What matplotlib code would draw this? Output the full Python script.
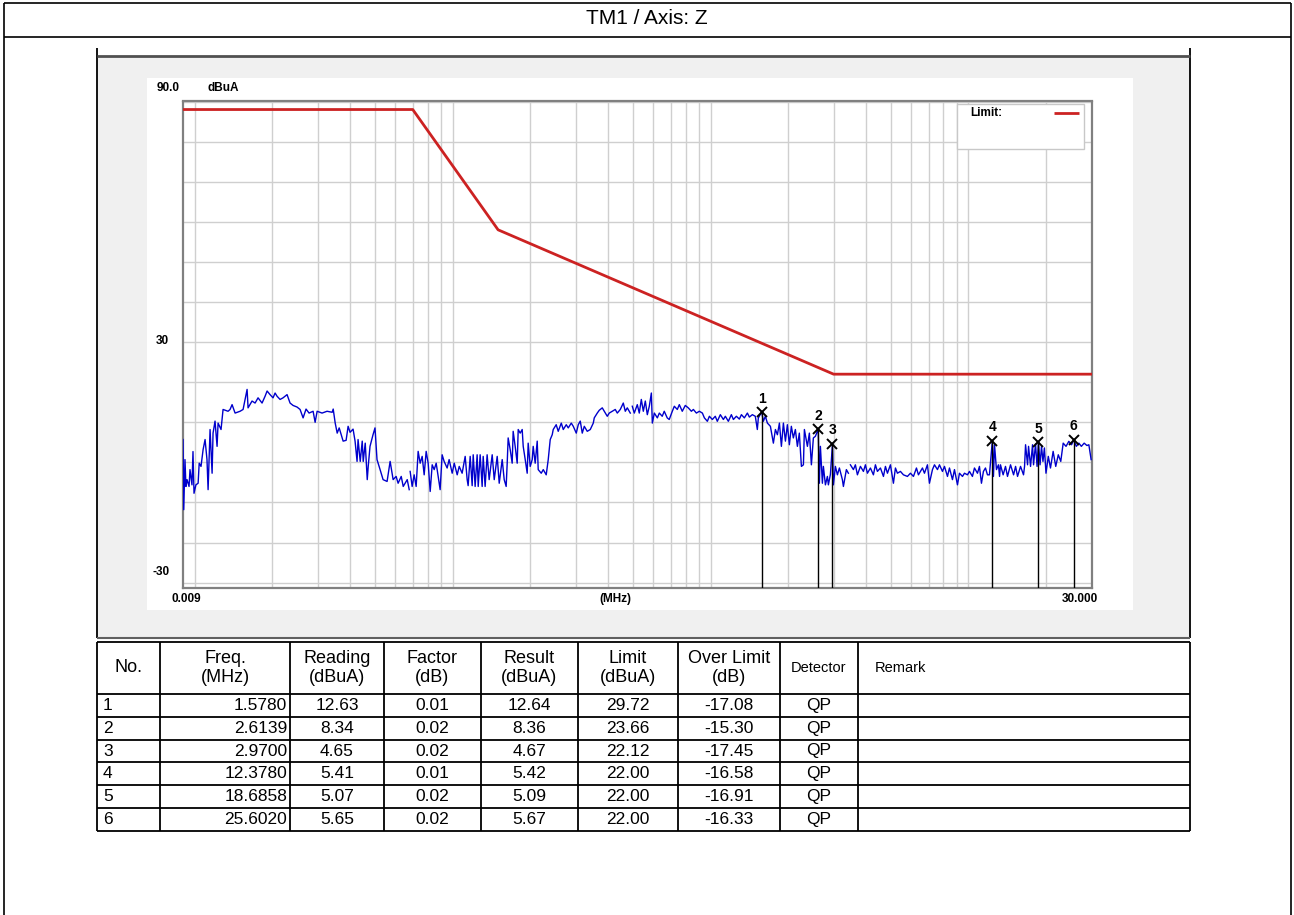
import matplotlib
matplotlib.use("Agg")
import matplotlib.pyplot as plt
from matplotlib.patches import Rectangle
from matplotlib.lines import Line2D

# ---------------- data ----------------
freq_a = [0.00900, 0.00906, 0.00916, 0.00924, 0.00933, 0.00950, 0.00958, 0.00975, 0.00984, 0.00993,
          0.0101, 0.0103, 0.0104, 0.01057, 0.01077, 0.01096, 0.01115, 0.01126, 0.01146, 0.01167,
          0.01177, 0.01198, 0.0122, 0.01231, 0.01264, 0.01287, 0.01346, 0.0137, 0.01395, 0.01433,
          0.01498, 0.01539, 0.01595, 0.01609, 0.01667, 0.01713, 0.01759, 0.01823, 0.01873, 0.01907,
          0.01958, 0.02011, 0.02048, 0.02084, 0.02141, 0.02199, 0.02279, 0.02341, 0.02405, 0.02492,
          0.0256, 0.0263, 0.0270, 0.02774, 0.02876, 0.02928, 0.02981, 0.03115, 0.03257, 0.0341,
          0.03441, 0.03503, 0.03566, 0.0363, 0.0376, 0.03861, 0.03931, 0.0400, 0.04109, 0.04183,
          0.04258, 0.04296, 0.0438, 0.04459, 0.04499, 0.0458, 0.04663, 0.04704, 0.0478, 0.0491,
          0.04998, 0.05088, 0.0523, 0.05372, 0.05567, 0.0572, 0.05876, 0.06035, 0.06143, 0.06316,
          0.0643, 0.06664, 0.06783]
level_a = [5.7, -11.8, 0.7, -6, -4.3, -6, -1.8, -5.6, 2.7, -7.7,
           -5.6, -5.2, -0.2, -1.0, 3.2, 5.7, 0.7, -6.8, 8.2, -2.7,
           7.3, 10.3, 4.0, 9.8, 8.2, 13.2, 12.75, 13.2, 14.4, 12.3,
           12.75, 13.2, 18.2, 13.6, 15.3, 14.8, 16.1, 14.8, 16.5, 17.8,
           16.9, 16.1, 17.3, 16.5, 15.7, 16.1, 16.9, 14.8, 14.2, 13.8,
           13.2, 11.1, 13.3, 12.3, 12.75, 10.0, 12.75, 12.3, 12.75, 12.5,
           13.3, 9.8, 7.3, 8.6, 5.3, 5.5, 9.0, 7.5, 8.3, 5.3,
           0.25, 5.7, 0.25, 5.3, 0.25, 4.8, -4.3, -1.0, 4.0, 6.9,
           8.6, 0.7, -1.8, -4.3, -4.75, 0.25, -4.3, -3.5, -5.2, -3.5,
           -6.0, -4.3, -6.8]

freq_b = [0.0684, 0.06963, 0.07089, 0.07216, 0.07346, 0.0748, 0.07615, 0.07752, 0.07891, 0.08034,
          0.0818, 0.08327, 0.08478, 0.0863, 0.08785, 0.0894, 0.09101, 0.09265, 0.09517, 0.09687,
          0.09956, 0.1014, 0.1041, 0.1060, 0.1088, 0.1118, 0.1138, 0.1148, 0.1169, 0.1190,
          0.1201, 0.1222, 0.1244, 0.1256, 0.1278, 0.1301, 0.1313, 0.1336, 0.1360, 0.1385,
          0.1423, 0.1449, 0.1488, 0.1515, 0.1556, 0.1584, 0.1612, 0.1627, 0.1641, 0.1671,
          0.1701, 0.1716, 0.1747, 0.1779, 0.1795, 0.1827, 0.1860, 0.1877, 0.1911, 0.1945,
          0.1962, 0.1998, 0.2034, 0.2052, 0.2089, 0.2127, 0.2146, 0.2205, 0.2245, 0.2305,
          0.2347, 0.2389, 0.2432, 0.2454, 0.2520, 0.2566, 0.2637, 0.2684, 0.2757, 0.2806,
          0.2883, 0.2935, 0.3014, 0.3069, 0.3124, 0.3180, 0.3238, 0.3325, 0.3416, 0.3509,
          0.3540, 0.3636, 0.3702, 0.3802, 0.3871, 0.3976, 0.4047, 0.4158, 0.4270, 0.4348,
          0.4466, 0.4587, 0.4670, 0.4754, 0.4883]
level_b = [-2.25, -6.0, -3.1, -6.0, 2.75, -0.2, 1.5, -3.1, 2.75, -0.2,
           -7.25, -0.6, -1.8, -0.2, -3.5, -6.8, 1.9, 0.25, -1.4, 0.7,
           -2.7, -0.2, -3.1, -1.0, -2.7, 1.5, -4.3, -5.8, 1.5, -5.8,
           1.9, -6.0, 1.9, -6.0, 1.9, -6.0, 1.5, -6.0, 1.9, -4.3,
           1.9, -4.3, 1.5, -5.2, 0.7, -4.3, -6.0, -0.2, 6.1, 3.2,
           -0.2, 7.75, 4.0, -0.2, 8.2, 7.3, 8.2, 4.0, 0.7, -2.7,
           4.8, -1.0, 0.7, 4.0, -0.2, 5.3, -1.8, -2.7, -1.8, -3.1,
           0.7, 5.7, 6.9, 8.2, 9.4, 7.75, 9.8, 8.2, 9.4, 8.6,
           9.8, 9.0, 7.3, 9.4, 10.3, 7.3, 9.0, 7.75, 8.2, 9.8,
           11.1, 12.3, 13.0, 13.6, 12.75, 11.5, 12.3, 12.75, 13.2, 12.3,
           13.2, 14.8, 12.75, 13.6, 12.3]

freq_c = [0.4971, 0.5061, 0.5198, 0.5291, 0.5388, 0.5485, 0.5584, 0.5685, 0.5787, 0.5893,
          0.5945, 0.6053, 0.6217, 0.6328, 0.6495, 0.6612, 0.6791, 0.6913, 0.7106, 0.7234,
          0.7430, 0.7564, 0.7767, 0.7979, 0.8195, 0.8425, 0.8577, 0.8810, 0.9048, 0.9294,
          0.9463, 0.9718, 0.9893, 1.016, 1.043, 1.062, 1.091, 1.121, 1.141, 1.172,
          1.204, 1.226, 1.259, 1.293, 1.317, 1.352, 1.389, 1.414, 1.452, 1.491,
          1.518, 1.532, 1.578, 1.602, 1.631, 1.661, 1.706, 1.752, 1.784, 1.816,
          1.849, 1.882, 1.916, 1.951, 1.985, 2.021, 2.057, 2.094, 2.132, 2.171,
          2.209, 2.250, 2.291, 2.311, 2.374, 2.416, 2.460, 2.504, 2.549, 2.595,
          2.6139, 2.642, 2.666, 2.714, 2.738, 2.788, 2.838, 2.863, 2.915, 2.970,
          2.994, 3.048, 3.103, 3.159, 3.244, 3.274, 3.362, 3.423]
level_c = [14.0, 12.3, 14.4, 12.3, 15.7, 12.75, 15.3, 11.9, 14.0, 17.3,
           9.8, 12.3, 11.1, 12.3, 11.5, 12.75, 11.1, 10.7, 12.75, 14.0,
           13.2, 14.4, 12.75, 14.2, 13.6, 12.75, 13.2, 12.3, 12.75, 12.3,
           11.1, 10.25, 11.5, 10.7, 11.5, 10.25, 11.9, 10.7, 11.5, 10.25,
           11.9, 10.7, 11.5, 10.8, 11.9, 11.1, 12.3, 11.3, 11.9, 11.5,
           8.2, 11.1, 12.6, 10.25, 11.5, 9.8, 9.0, 4.8, 8.2, 6.9,
           9.8, 4.0, 9.8, 5.3, 9.4, 4.4, 9.0, 6.1, 8.2, 4.0,
           7.3, -1.0, -0.6, 8.2, 4.0, 7.3, -0.6, 6.1, 6.5, 7.75,
           8.3, -5.2, 4.0, -5.2, -1.0, -5.6, -3.5, -5.6, -3.0, 4.6,
           -5.6, -1.0, -3.1, -1.4, -4.3, -6.0, -1.8, -2.7]

freq_d = [3.485, 3.580, 3.644, 3.710, 3.811, 3.915, 3.985, 4.057, 4.167, 4.280,
          4.357, 4.436, 4.557, 4.681, 4.765, 4.851, 4.982, 5.117, 5.210, 5.303,
          5.448, 5.596, 5.799, 5.957, 6.119, 6.285, 6.398, 6.631, 6.751, 6.934,
          7.058, 7.251, 7.382, 7.582, 7.718, 7.929, 8.073, 8.291, 8.440, 8.669,
          8.826, 9.065, 9.228, 9.479, 9.651, 9.913, 10.09, 10.36, 10.55, 10.84,
          11.03, 11.23, 11.43, 11.64, 11.85, 12.06, 12.378, 12.50, 12.62, 12.84,
          13.07, 13.20, 13.31, 13.63, 13.92, 14.17, 14.56, 14.96, 15.23, 15.50,
          15.92, 16.35, 16.50, 16.65, 16.95, 17.10, 17.41, 17.72, 17.88, 18.20,
          18.45, 18.6858, 18.95, 19.20, 19.45, 19.70, 19.98, 20.40, 20.80, 21.30,
          21.80, 22.30, 22.80, 23.30, 23.90, 24.50, 25.10, 25.602, 26.20, 26.80,
          27.40, 28.10, 28.80, 29.30, 29.90]
level_d = [-0.6, -1.8, -0.6, -3.1, -1.0, -2.25, -0.6, -2.7, -1.4, -3.1,
           -0.6, -2.25, -1.4, -3.5, -1.0, -2.7, -0.6, -5.2, -1.4, -2.7,
           -2.25, -3.1, -3.5, -2.7, -3.5, -1.4, -3.1, -1.4, -2.7, -0.6,
           -5.2, -1.8, -0.6, -1.8, -0.6, -2.25, -1.0, -3.5, -1.4, -4.3,
           -1.8, -5.6, -2.7, -3.5, -2.7, -3.1, -2.25, -3.5, -1.4, -2.7,
           -1.0, -5.2, -2.25, -1.4, -3.1, -3.1, 5.4, -3.5, 4.4, -1.8,
           -0.6, -3.5, -0.6, -3.1, -1.0, -3.5, -0.6, -3.1, -1.0, -3.5,
           -1.0, -3.1, -1.0, 4.4, -0.6, 4.0, -1.0, 4.4, -0.6, 4.6,
           -1.0, 5.1, -0.6, 4.0, 0.25, 3.6, -2.7, 1.5, -1.4, 2.75,
           -1.0, 1.9, 0.25, 4.8, 4.0, 5.25, 4.4, 5.6, 4.0, 4.8,
           4.0, 4.8, 4.2, 4.4, 0.7]

limit_freq = [0.009, 0.07, 0.15, 3.0, 30.0]
limit_level = [88, 88, 58, 22, 22]

marker_no = ["1", "2", "3", "4", "5", "6"]
marker_freq = [1.5780, 2.6139, 2.9700, 12.3780, 18.6858, 25.6020]
marker_reading = [12.63, 8.34, 4.65, 5.41, 5.07, 5.65]
marker_factor = [0.01, 0.02, 0.02, 0.01, 0.02, 0.02]
marker_result = [12.64, 8.36, 4.67, 5.42, 5.09, 5.67]
marker_limit = [29.72, 23.66, 22.12, 22.00, 22.00, 22.00]
marker_over = [-17.08, -15.30, -17.45, -16.58, -16.91, -16.33]
marker_detector = ["QP", "QP", "QP", "QP", "QP", "QP"]

table_headers = ["No.", "Freq.\n(MHz)", "Reading\n(dBuA)", "Factor\n(dB)", "Result\n(dBuA)",
                 "Limit\n(dBuA)", "Over Limit\n(dB)", "Detector", "Remark"]

title_text = "TM1 / Axis: Z"

# ---------------- figure ----------------
W, H = 1294, 915
fig = plt.figure(figsize=(W / 100, H / 100), dpi=100)
fig.patch.set_facecolor("white")
SANS = ["Liberation Sans", "DejaVu Sans"]


def fx(x):
    return x / W


def fy(y):
    return 1 - y / H


def line(x0, y0, x1, y1, color="black", lw=1.0, z=3):
    fig.add_artist(Line2D([fx(x0), fx(x1)], [fy(y0), fy(y1)], color=color, lw=lw,
                          transform=fig.transFigure, zorder=z, solid_capstyle="butt"))


def rect(x0, y0, x1, y1, fc, ec="none", lw=0, z=-2):
    fig.add_artist(Rectangle((fx(x0), fy(y1)), fx(x1) - fx(x0), fy(y0) - fy(y1),
                             transform=fig.transFigure, facecolor=fc, edgecolor=ec,
                             lw=lw, zorder=z))


def text(x, y, s, size=12, ha="center", weight="normal", family=SANS, z=4, ls=1.0):
    fig.text(fx(x), fy(y), s, ha=ha, va="center", fontsize=size, fontweight=weight,
             family=family, zorder=z, linespacing=ls)


# outer frame and title
line(4, 3, 1291, 3, lw=1.2)
line(4, 3, 4, 915, lw=1.2)
line(1291, 3, 1291, 915, lw=1.2)
line(4, 37, 1291, 37, lw=1.2)
text(647, 19, title_text, size=15)

# chart panel
rect(97, 56, 1190, 638, "#f0f0f0", z=-3)
rect(147, 78, 1133, 610, "white", z=-2)
line(96.5, 48, 96.5, 638, lw=1.3)
line(1190, 48, 1190, 638, lw=1.3)
line(96.5, 56, 1190, 56, color="#505050", lw=2.0)
line(96.5, 638, 1190, 638, color="#606060", lw=1.5)

# axes
ax = fig.add_axes([fx(183), fy(587.5), fx(1091.5) - fx(183), fy(101.5) - fy(587.5)])
ax.set_facecolor("white")
ax.set_xscale("log")
ax.set_xlim(0.009, 30)
ax.set_ylim(-31.2, 90)
grid_x = [m * 10.0 ** e for e in range(-2, 2) for m in range(1, 10) if m * 10.0 ** e <= 30]
ax.set_xticks(grid_x)
ax.set_xticks([], minor=True)
ax.set_yticks(list(range(-30, 91, 10)))
ax.tick_params(which="both", length=0, labelbottom=False, labelleft=False)
ax.grid(True, which="major", color="#cfcfcf", lw=1.0)
for sp in ax.spines.values():
    sp.set_color("#808080")
    sp.set_linewidth(1.6)

ax.plot(limit_freq, limit_level, color="#cc2222", lw=2.0, zorder=3)
for fr, lv in ((freq_a, level_a), (freq_b, level_b), (freq_c, level_c), (freq_d, level_d)):
    ax.plot(fr, lv, color="#0000cc", lw=1.0, zorder=4)

for no, f, r in zip(marker_no, marker_freq, marker_result):
    ax.plot([f, f], [-31.2, r], color="black", lw=1.0, zorder=5)
    ax.plot([f], [r], marker="x", color="black", ms=6.5, mew=1.4, zorder=6)
    ax.annotate(no, (f, r), xytext=(0, 9.5), textcoords="offset points", ha="center",
                va="center", fontsize=10, fontweight="bold", family=SANS, color="black",
                zorder=6)

# axis labels
BOLD = dict(weight="bold", size=8.5)
text(157, 88, "90.0", ha="left", **BOLD)
text(208, 88, "dBuA", ha="left", **BOLD)
text(169, 341, "30", ha="right", **BOLD)
text(170, 572, "-30", ha="right", **BOLD)
text(171, 599, "0.009", ha="left", **BOLD)
text(615, 599, "(MHz)", ha="center", **BOLD)
text(1098, 599, "30.000", ha="right", **BOLD)

# legend
rect(957, 104, 1084, 149, "white", ec="#c8c8c8", lw=1.0, z=5)
text(970, 113, "Limit:", ha="left", z=6, **BOLD)
line(1054, 113, 1079, 113, color="#cc2222", lw=2.0, z=6)

# table
col_x = [97, 160, 290, 384, 481, 578, 678, 780, 858, 1190]
row_y = [642, 694, 716.8, 739.6, 762.4, 785.2, 808, 830.8]
for x in col_x:
    line(x, row_y[0], x, row_y[-1], lw=1.3)
for y in row_y:
    line(col_x[0], y, col_x[-1], y, lw=1.3)

hy = (row_y[0] + row_y[1]) / 2
for i, h in enumerate(table_headers):
    cx = (col_x[i] + col_x[i + 1]) / 2
    if h == "Remark":
        text(875, hy, h, ha="left", size=10.5)
    elif h == "Detector":
        text(cx, hy, h, size=10.5)
    else:
        text(cx, hy, h, size=13, ls=1.1)

for k in range(len(marker_no)):
    cy = (row_y[k + 1] + row_y[k + 2]) / 2
    cells = [marker_reading[k], marker_factor[k], marker_result[k], marker_limit[k], marker_over[k]]
    text(103, cy, marker_no[k], ha="left", size=12.5)
    text(col_x[2] - 3, cy, "%.4f" % marker_freq[k], ha="right", size=12.5)
    for j, v in enumerate(cells):
        text((col_x[2 + j] + col_x[3 + j]) / 2, cy, "%.2f" % v, size=12.5)
    text((col_x[7] + col_x[8]) / 2, cy, marker_detector[k], size=12.5)

fig.savefig("out.png", dpi=100, facecolor="white")
